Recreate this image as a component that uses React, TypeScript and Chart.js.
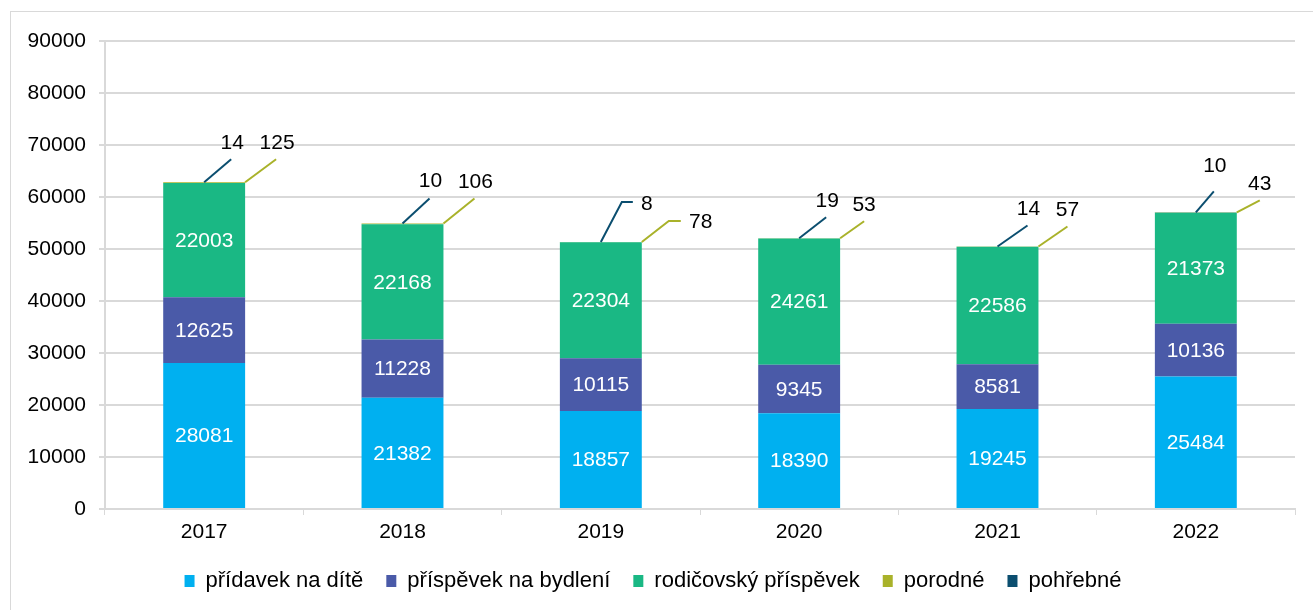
import React, { useEffect, useRef } from "react";
import { Chart, registerables } from "chart.js";

Chart.register(...registerables);

const years = ["2017", "2018", "2019", "2020", "2021", "2022"];
const pridavek = [28081, 21382, 18857, 18390, 19245, 25484];
const prispevek = [12625, 11228, 10115, 9345, 8581, 10136];
const rodicovsky = [22003, 22168, 22304, 24261, 22586, 21373];
const porodne = [125, 106, 78, 53, 57, 43];
const pohrebne = [14, 10, 8, 19, 14, 10];
const seriesNames = ["přídavek na dítě", "příspěvek na bydlení", "rodičovský příspěvek", "porodné", "pohřebné"];
const colors = ["#00B0F0", "#4A5AA8", "#1AB884", "#A9B22A", "#0B4E6F"];
const yTicks = [0, 10000, 20000, 30000, 40000, 50000, 60000, 70000, 80000, 90000];

// Callout leader-line geometry (pixels, relative to bar top). Style only.
// pohřebné: relative to bar centre; porodné: relative to bar right edge.
// [bendDx, bendDy, endDx, endDy, labelDx, labelDy]
const pohrebneCallout = [
  [27, -23, 27, -23, 28, -39],
  [27, -25, 27, -25, 28, -42],
  [21, -40, 32, -40, 46, -38],
  [27, -21, 27, -21, 28, -37],
  [30, -21, 30, -21, 31, -37],
  [18, -21, 18, -21, 19, -46],
];
const porodneCallout = [
  [31, -23, 31, -23, 32, -39],
  [31, -25, 31, -25, 32, -41],
  [27, -21, 39, -21, 59, -20],
  [24, -17, 24, -17, 24, -33],
  [29, -20, 29, -20, 29, -36],
  [23, -12, 23, -12, 23, -28],
];

const FONT = "'Liberation Sans', Arial, sans-serif";
const FS = 21;

const labelPlugin = {
  id: "segLabels",
  afterDatasetsDraw(chart: any) {
    const ctx = chart.ctx;
    ctx.save();
    ctx.font = `${FS}px ${FONT}`;
    ctx.textAlign = "center";
    ctx.textBaseline = "middle";
    for (let d = 0; d < 3; d++) {
      const meta = chart.getDatasetMeta(d);
      const vals = chart.data.datasets[d].data;
      meta.data.forEach((bar: any, j: number) => {
        const p = bar.getProps(["x", "y", "base"], true);
        ctx.fillStyle = "#ffffff";
        ctx.fillText(String(vals[j]), p.x, (p.y + p.base) / 2 + 1);
      });
    }
    const topMeta = chart.getDatasetMeta(4);
    topMeta.data.forEach((bar: any, j: number) => {
      const p = bar.getProps(["x", "y", "width"], true);
      const top = p.y;
      const draw = (sx: number, geo: number[], color: string, text: string) => {
        ctx.strokeStyle = color;
        ctx.lineWidth = 2;
        ctx.beginPath();
        ctx.moveTo(sx, top);
        ctx.lineTo(sx + geo[0], top + geo[1]);
        ctx.lineTo(sx + geo[2], top + geo[3]);
        ctx.stroke();
        ctx.fillStyle = "#000000";
        ctx.fillText(text, sx + geo[4], top + geo[5]);
      };
      draw(p.x, pohrebneCallout[j], colors[4], String(pohrebne[j]));
      draw(p.x + p.width / 2, porodneCallout[j], colors[3], String(porodne[j]));
    });
    ctx.restore();
  },
};

export default function App() {
  const ref = useRef<HTMLCanvasElement>(null);
  useEffect(() => {
    document.body.style.overflow = "hidden";
    const series = [pridavek, prispevek, rodicovsky, porodne, pohrebne];
    const chart = new Chart(ref.current!, {
      type: "bar",
      data: {
        labels: years,
        datasets: series.map((s, i) => ({
          label: seriesNames[i],
          data: s,
          backgroundColor: colors[i],
          borderWidth: 0,
          barPercentage: 0.413,
          categoryPercentage: 1,
        })),
      },
      options: {
        animation: false,
        responsive: false,
        devicePixelRatio: 1,
        layout: { padding: { top: 29, right: 18, left: 0, bottom: 0 } },
        plugins: {
          tooltip: { enabled: false },
          legend: {
            position: "bottom",
            labels: {
              boxWidth: 10,
              boxHeight: 12,
              padding: 23,
              color: "#000",
              font: { family: FONT, size: 22 },
            },
          },
        },
        scales: {
          x: {
            stacked: true,
            grid: {
              offset: true,
              drawOnChartArea: false,
              tickLength: 6,
              color: "#d9d9d9",
              lineWidth: 1,
            },
            border: { color: "#d9d9d9", width: 2 },
            ticks: { color: "#000", padding: 5, font: { family: FONT, size: FS } },
            afterFit: (s: any) => {
              s.height = 38;
            },
          },
          y: {
            stacked: true,
            min: 0,
            max: 90000,
            afterBuildTicks: (s: any) => {
              s.ticks = yTicks.map((v) => ({ value: v }));
            },
            grid: { color: "#d9d9d9", lineWidth: 2, tickLength: 6 },
            border: { color: "#d9d9d9", width: 2 },
            ticks: {
              color: "#000",
              padding: 13,
              font: { family: FONT, size: FS },
              callback: (v: any) => String(v),
            },
            afterFit: (s: any) => {
              s.width = 94;
            },
          },
        },
      },
      plugins: [labelPlugin],
    });
    return () => chart.destroy();
  }, []);
  return (
    <div
      style={{
        position: "absolute",
        left: 10,
        top: 11,
        width: 1304,
        height: 630,
        border: "1px solid #d9d9d9",
        boxSizing: "border-box",
        overflow: "hidden",
        background: "#fff",
      }}
    >
      <canvas ref={ref} width={1302} height={590} style={{ display: "block" }} />
    </div>
  );
}
